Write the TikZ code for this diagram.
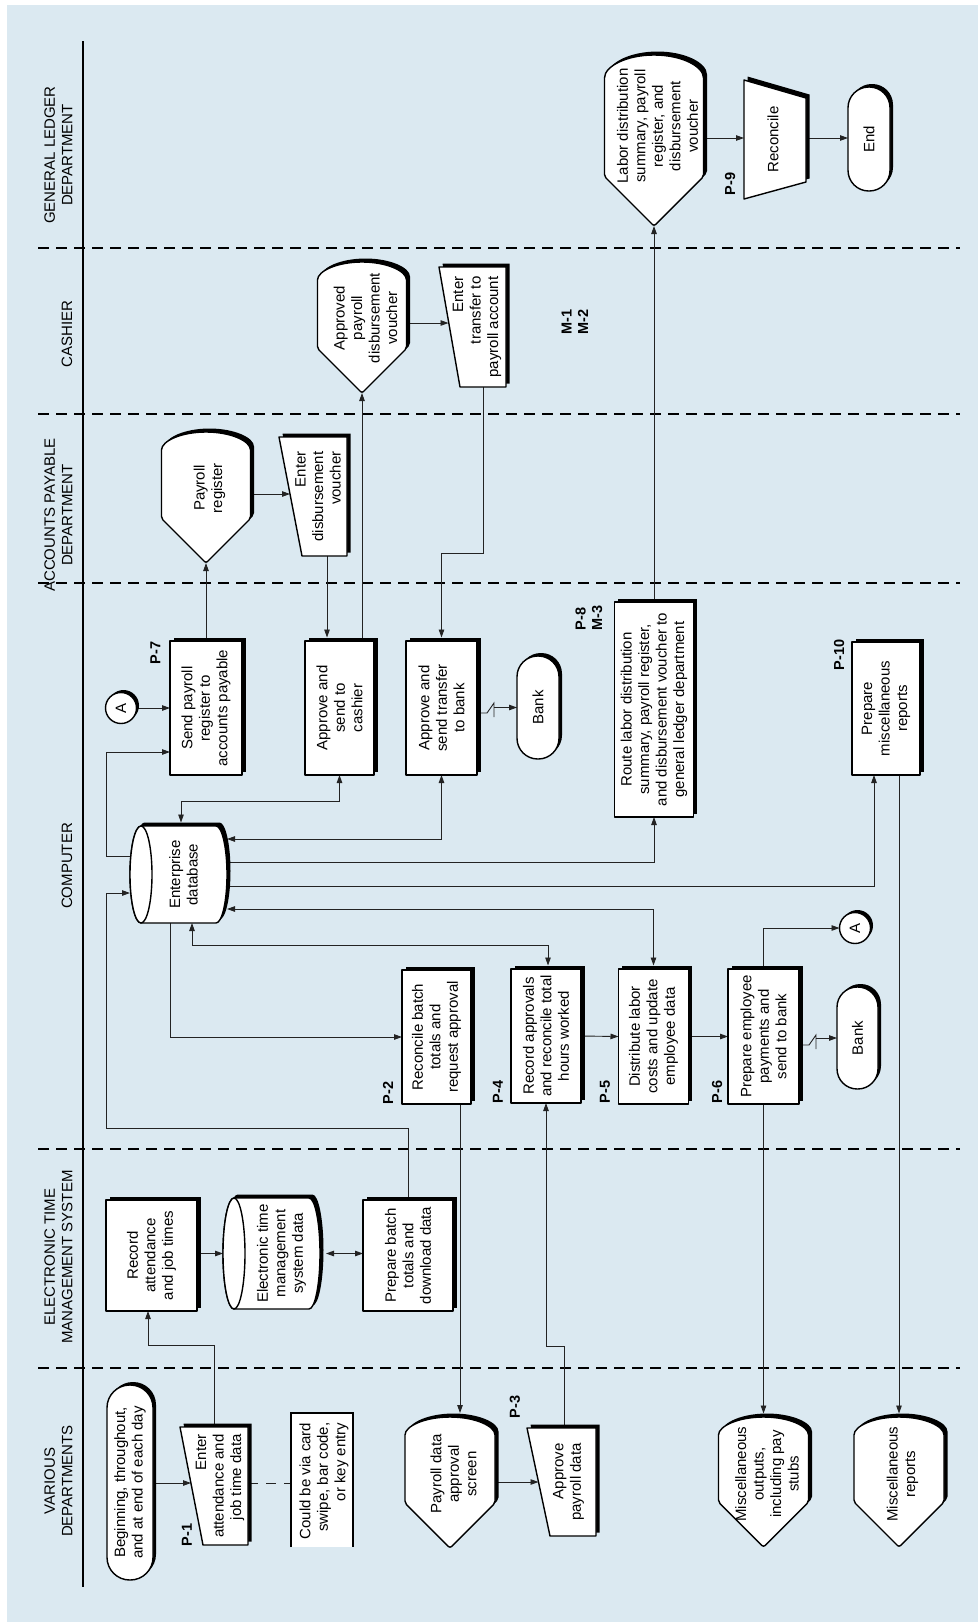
\documentclass[tikz,border=0pt]{standalone}
\usepackage{fontspec}
\setmainfont{Liberation Sans}
\usetikzlibrary{arrows.meta,calc}

\pgfdeclarelayer{back}
\pgfdeclarelayer{conns}
\pgfsetlayers{back,conns,main}

\definecolor{lanebg}{RGB}{219,233,241}
\definecolor{wire}{RGB}{35,35,35}

\tikzset{
  anchorbox/.style={rectangle, draw=none, fill=none, inner sep=0pt, outer sep=0pt},
  shape line/.style={draw=black, line width=1.4pt, fill=white, line join=round},
  txt/.style={rotate=90, align=center, inner sep=0pt, font=\fontsize{15}{17.5}\selectfont},
  txtr/.style={txt, align=right},
  tag/.style={rotate=90, align=left, inner sep=0pt, font=\fontsize{14.5}{16.5}\selectfont\bfseries},
  lanelabel/.style={rotate=90, align=center, inner sep=0pt, font=\fontsize{15}{17.5}\selectfont},
  conn/.style={draw=wire, line width=0.9pt},
  arr/.style={conn, -{Triangle[length=8pt,width=5.5pt]}},
  darr/.style={conn, {Triangle[length=8pt,width=5.5pt]}-{Triangle[length=8pt,width=5.5pt]}},
  lanesep/.style={draw=black, line width=2pt, dash pattern=on 11pt off 7pt},
}

% process box: name, cx, cy, width, height, text
\newcommand\ProcBox[6]{%
  \node[anchorbox, minimum width=#4pt, minimum height=#5pt] (#1) at (#2,#3) {};
  \fill[black, transform canvas={xshift=3.5pt, yshift=3.5pt}] (#1.south west) rectangle (#1.north east);
  \draw[shape line] (#1.south west) rectangle (#1.north east);
  \node[txt] at (#1.center) {#6};
}
% terminal: name, cx, cy, width, height, text
\newcommand\TermBox[6]{%
  \node[anchorbox, minimum width=#4pt, minimum height=#5pt] (#1) at (#2,#3) {};
  \pgfmathsetmacro\trad{#4/2-0.3}%
  \fill[black, rounded corners=\trad pt, transform canvas={xshift=3pt, yshift=3pt}] (#1.south west) rectangle (#1.north east);
  \draw[shape line, rounded corners=\trad pt] (#1.south west) rectangle (#1.north east);
  \node[txt] at (#1.center) {#6};
}
% display: name, cx, cy, width, height, cap depth, text raise, text
\newcommand\DispBox[8]{%
  \node[anchorbox, minimum width=#4pt, minimum height=#5pt] (#1) at (#2,#3) {};
  \pgfmathsetmacro\dra{#4/2}%
  \fill[black, rounded corners=2pt, transform canvas={xshift=3.5pt, yshift=3.5pt}]
    ([yshift=-#6pt]#1.north east) arc[start angle=0, end angle=180, x radius=\dra pt, y radius=#6pt]
    -- ([yshift=\dra pt]#1.south west) -- (#1.south) -- ([yshift=\dra pt]#1.south east) -- cycle;
  \draw[shape line, rounded corners=2pt]
    ([yshift=-#6pt]#1.north east) arc[start angle=0, end angle=180, x radius=\dra pt, y radius=#6pt]
    -- ([yshift=\dra pt]#1.south west) -- (#1.south) -- ([yshift=\dra pt]#1.south east) -- cycle;
  \node[txt] at ([xshift=3.5pt, yshift=#7pt]#1.center) {#8};
}
% manual input: name, cx, cy, width, height, slant, text shift, text
\newcommand\ManIn[8]{%
  \node[anchorbox, minimum width=#4pt, minimum height=#5pt] (#1) at (#2,#3) {};
  \fill[black, transform canvas={xshift=3.5pt, yshift=3.5pt}]
    (#1.north west) -- ([xshift=#6pt]#1.south west) -- (#1.south east) -- (#1.north east) -- cycle;
  \draw[shape line]
    (#1.north west) -- ([xshift=#6pt]#1.south west) -- (#1.south east) -- (#1.north east) -- cycle;
  \node[txtr] at ([xshift=#7pt]#1.center) {#8};
}
% disk storage: name, cx, cy, width, height, end radius, text shift, text
\newcommand\CylBox[8]{%
  \node[anchorbox, minimum width=#4pt, minimum height=#5pt] (#1) at (#2,#3) {};
  \pgfmathsetmacro\cry{#5/2}%
  \fill[black, transform canvas={xshift=3.5pt, yshift=3.5pt}]
    ([xshift=#6pt]#1.north west) -- ([xshift=-#6pt]#1.north east)
    arc[start angle=90, end angle=-90, x radius=#6pt, y radius=\cry pt]
    -- ([xshift=#6pt]#1.south west)
    arc[start angle=270, end angle=90, x radius=#6pt, y radius=\cry pt] -- cycle;
  \draw[shape line]
    ([xshift=#6pt]#1.north west) -- ([xshift=-#6pt]#1.north east)
    arc[start angle=90, end angle=-90, x radius=#6pt, y radius=\cry pt]
    -- ([xshift=#6pt]#1.south west)
    arc[start angle=270, end angle=90, x radius=#6pt, y radius=\cry pt] -- cycle;
  \draw[shape line] ([xshift=#6pt]#1.west) ellipse[x radius=#6pt, y radius=\cry pt];
  \node[txt] at ([xshift=#7pt]#1.center) {#8};
}
% off-page connector circle: name, cx, cy, text
\newcommand\ConnA[4]{%
  \node[anchorbox, circle, minimum size=31pt] (#1) at (#2,#3) {};
  \fill[black, transform canvas={xshift=2.5pt, yshift=2.5pt}] (#1.center) circle[radius=15.5pt];
  \draw[shape line] (#1.center) circle[radius=15.5pt];
  \node[txt] at (#1.center) {#4};
}
% communication link: from node, y of the low run, to node
\newcommand\Bolt[3]{%
  \draw[conn] (#1.east |- 0,#2) -- ++(10,0) -- ++(7,-10) -- ++(0,14);
  \draw[arr] ($(#1.east |- #3.west)+(17,0)$) -- (#3.west);
}

\begin{document}
\begin{tikzpicture}[x=1pt, y=-1pt]
\useasboundingbox (0,0) rectangle (978,1622);

\begin{pgfonlayer}{back}
  \fill[lanebg] (7,5) rectangle (978,1622);
  \foreach \yy in {248,414,583,1149,1368}
    \draw[lanesep] (38,\yy) -- (960,\yy);
  \draw[black, line width=2pt] (83,41) -- (83,1587);
\end{pgfonlayer}

% lane headings
\node[lanelabel] at (58.5,155) {GENERAL LEDGER\\DEPARTMENT};
\node[lanelabel] at (67,334) {CASHIER};
\node[lanelabel] at (58.5,515) {ACCOUNTS PAYABLE\\DEPARTMENT};
\node[lanelabel] at (67,866) {COMPUTER};
\node[lanelabel] at (58.5,1257) {ELECTRONIC TIME\\MANAGEMENT SYSTEM};
\node[lanelabel] at (58.5,1481) {VARIOUS\\DEPARTMENTS};

% various departments
\TermBox{start}{130}{1482.5}{46}{195}{Beginning, throughout,\\and at end of each day}
\ManIn{p1}{214}{1486}{68}{118}{23}{6}{Enter\\attendance and\\job time data}
\node[anchorbox, minimum width=62pt, minimum height=134pt] (ann) at (322,1480) {};
\fill[white] (ann.south west) rectangle (ann.north east);
\draw[black, line width=1.4pt] (ann.south west) -- (ann.north west) -- (ann.north east) -- (ann.south east);
\node[txtr] at (324,1481) {Could be via card\\swipe, bar code,\\or key entry};
\DispBox{screen}{450}{1482.5}{90}{131}{20}{8.5}{Payroll data\\approval\\screen}
\ManIn{p3}{561.5}{1482}{69}{108}{23}{7}{Approve\\payroll data}
\DispBox{miscout}{763.5}{1482}{90}{130}{20}{8}{Miscellaneous\\outputs,\\including pay\\stubs}
\DispBox{miscrep}{899}{1482}{90}{130}{20}{8}{Miscellaneous\\reports}

% electronic time management system
\ProcBox{rec}{151.5}{1255.5}{91}{111}{Record\\attendance\\and job times}
\CylBox{etms}{271.5}{1253.5}{97}{111}{11}{10}{Electronic time\\management\\system data}
\ProcBox{prep}{408}{1255.5}{90}{111}{Prepare batch\\totals and\\download data}

% computer
\CylBox{db}{178.5}{874.5}{97}{97}{11}{5}{Enterprise\\database}
\ProcBox{p2}{436.5}{1037}{69}{134}{Reconcile batch\\totals and\\request approval}
\ProcBox{p4}{546}{1036}{70}{134}{Record approvals\\and reconcile total\\hours worked}
\ProcBox{p5}{653.5}{1036.5}{70}{135}{Distribute labor\\costs and update\\employee data}
\ProcBox{p6}{763.5}{1036.5}{71}{135}{Prepare employee\\payments and\\send to bank}
\ConnA{a2}{855}{928}{A}
\TermBox{bank2}{857.5}{1038}{41}{102}{Bank}
\ConnA{a1}{121}{708}{A}
\ProcBox{p7}{206}{708}{72}{134}{Send payroll\\register to\\accounts payable}
\ProcBox{cash}{339.5}{708}{69}{134}{Approve and\\send to\\cashier}
\ProcBox{xfer}{441.5}{708}{71}{134}{Approve and\\send transfer\\to bank}
\TermBox{bank1}{538}{707.5}{42}{103}{Bank}
\ProcBox{route}{654}{709.5}{79}{215}{Route labor distribution\\summary, payroll register,\\and disbursement voucher to\\general ledger department}
\ProcBox{p10}{886}{708.5}{68}{133}{Prepare\\miscellaneous\\reports}

% accounts payable
\DispBox{payreg}{206}{497.5}{89}{131}{20}{9.5}{Payroll\\register}
\ManIn{edv}{313}{496.5}{68}{119}{23}{5}{Enter\\disbursement\\voucher}

% cashier
\DispBox{appv}{362}{327.5}{89}{131}{20}{9.5}{Approved\\payroll\\disbursement\\voucher}
\ManIn{etr}{472.5}{327}{67}{120}{21}{4.5}{Enter\\transfer to\\payroll account}

% general ledger
\DispBox{lds}{654}{140.5}{99}{171}{25}{14.5}{\fontsize{15}{16.5}\selectfont Labor distribution\\summary, payroll\\register, and\\disbursement\\voucher}
\node[anchorbox, minimum width=62pt, minimum height=119pt] (recon) at (775,139.5) {};
\fill[black, transform canvas={xshift=3.5pt, yshift=3.5pt}]
  (recon.north west) -- ([yshift=-18pt]recon.north east) -- ([yshift=17pt]recon.south east) -- (recon.south west) -- cycle;
\draw[shape line]
  (recon.north west) -- ([yshift=-18pt]recon.north east) -- ([yshift=17pt]recon.south east) -- (recon.south west) -- cycle;
\node[txt] at ([xshift=-2pt]recon.center) {Reconcile};
\TermBox{finish}{869}{139}{42}{104}{End}

% step references
\node[tag] at (187,1535) {P-1};
\node[tag] at (388,1093) {P-2};
\node[tag] at (515,1407) {P-3};
\node[tag] at (498,1092) {P-4};
\node[tag] at (605,1092) {P-5};
\node[tag] at (717,1092) {P-6};
\node[tag] at (155.5,653) {P-7};
\node[tag] at (589,618) {P-8\\M-3};
\node[tag] at (730,184) {P-9};
\node[tag] at (839,655) {P-10};
\node[tag] at (575,322) {M-1\\M-2};

% entry points on slanted edges
\coordinate (p1in) at (191,1483);
\coordinate (edvin) at (290,494);
\coordinate (etrin) at (448.5,323);
\coordinate (p3in) at (538.5,1482);

\begin{pgfonlayer}{conns}
  \draw[arr] (start.east |- p1in) -- (p1in);
  \draw[conn, dash pattern=on 10pt off 8pt] (p1.east |- 0,1483) -- (ann.west |- 0,1483);
  \draw[arr] (p1.north) |- (148,1345) -- (148,0 |- rec.south);
  \draw[arr] (etms.west -| rec.east) -- (etms.west);
  \draw[darr, shorten <=6pt] (etms.east) -- (etms.east -| prep.west);
  \draw[arr] (prep.north) |- (106,1128) |- (db.west |- 0,893);
  \draw[arr] (db.west |- 0,856) -| (106,752) -- (p7.west |- 0,752);
  \draw[arr] (a1.east) -- (a1.east -| p7.west);
  \draw[arr] (p7.north) -- (p7.north |- payreg.south);
  \draw[arr] (payreg.east |- edvin) -- (edvin);
  \draw[arr, shorten >=3.5pt] (327,0 |- edv.south) -- (327,0 |- cash.north);
  \draw[arr] (appv.south |- cash.north) -- (appv.south);
  \draw[arr] (appv.east |- etrin) -- (etrin);
  \draw[arr, shorten >=3.5pt] (483,0 |- etr.south) |- (xfer.north |- 0,553) -- (xfer.north);
  \Bolt{xfer}{713}{bank1}
  \draw[darr, shorten <=3.5pt] (181,0 |- db.north) -- (181,801) -| (cash.south);
  \draw[darr] (db.east |- 0,839) -| (xfer.south);
  \draw[arr] (db.east |- 0,862) -| (route.south);
  \draw[arr] (db.east |- 0,886) -| ([xshift=-12pt]p10.south);
  \draw[darr, shorten >=3.5pt] (db.east |- 0,909) -| (p5.north);
  \draw[darr, shorten >=3.5pt] (192,0 |- db.south) -- (192,945) -| ([xshift=2pt]p4.north);
  \draw[arr] (170,0 |- db.south) |- (p2.west);
  \draw[arr, shorten >=4pt] (460,0 |- p2.south) -- (460,0 |- screen.north);
  \draw[arr] (screen.east |- p3in) -- (p3in);
  \draw[arr] (564,0 |- p3.north) |- (p4.south |- 0,1346) -- (p4.south);
  \draw[arr] (p4.east) -- (p5.west);
  \draw[arr] (p5.east) -- (p6.west);
  \draw[arr] (p6.north) |- (a2.west);
  \Bolt{p6}{1045}{bank2}
  \draw[arr, shorten >=3.5pt] (p6.south) -- (p6.south |- miscout.north);
  \draw[arr, shorten >=3.5pt] (miscrep.north |- p10.south) -- (miscrep.north);
  \draw[arr] (route.north) -- (lds.south);
  \draw[arr] (lds.east |- 0,138) -- (recon.west |- 0,138);
  \draw[arr] (recon.east |- 0,138) -- (finish.west |- 0,138);
\end{pgfonlayer}
\end{tikzpicture}
\end{document}
